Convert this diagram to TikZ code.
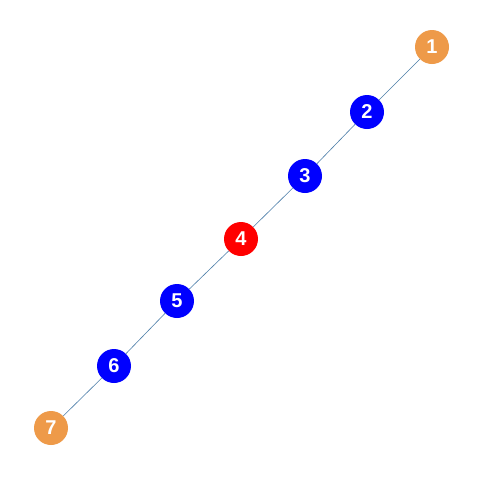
\documentclass[tikz,border=0pt]{standalone}
\usepackage{fontspec}
\setmainfont{Liberation Sans}
\definecolor{edgec}{HTML}{4A7DA8}
\definecolor{orangec}{HTML}{EE9A49}
\tikzset{
  vnode/.style={circle, minimum size=34pt, inner sep=0pt, text=white, font=\bfseries\fontsize{20}{20}\selectfont},
  endn/.style={vnode, fill=orangec},
  midn/.style={vnode, fill=blue},
  centern/.style={vnode, fill=red},
  edge/.style={draw=edgec, line width=0.6pt}
}
\begin{document}
\begin{tikzpicture}[x=1pt,y=-1pt]
\useasboundingbox[fill=white] (0,0) rectangle (480,480);
\node[endn] (n1) at (432,47) {1};
\node[midn] (n2) at (367,112) {2};
\node[midn] (n3) at (305,176) {3};
\node[centern] (n4) at (241,239) {4};
\node[midn] (n5) at (177,301) {5};
\node[midn] (n6) at (114,366) {6};
\node[endn] (n7) at (51,428) {7};
\draw[edge] (n1) -- (n2);
\draw[edge] (n2) -- (n3);
\draw[edge] (n3) -- (n4);
\draw[edge] (n4) -- (n5);
\draw[edge] (n5) -- (n6);
\draw[edge] (n6) -- (n7);
\end{tikzpicture}
\end{document}
